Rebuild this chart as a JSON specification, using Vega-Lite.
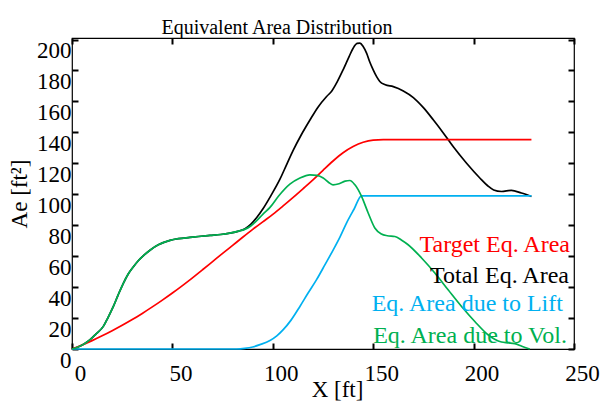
{
  "$schema": "https://vega.github.io/schema/vega-lite/v6.json",
  "width": 502,
  "height": 311,
  "autosize": {"type": "none"},
  "padding": {"left": 72, "top": 38, "right": 32, "bottom": 52},
  "title": {
    "text": "Equivalent Area Distribution",
    "font": "Liberation Serif",
    "fontSize": 20,
    "fontWeight": "normal",
    "color": "#000000",
    "baseline": "alphabetic",
    "offset": -17,
    "dx": -46
  },
  "config": {
    "view": {"stroke": "#000000", "strokeWidth": 1.2},
    "axis": {
      "grid": false,
      "domain": false,
      "labelFont": "Liberation Serif",
      "labelFontSize": 23,
      "labelColor": "#000000",
      "titleFont": "Liberation Serif",
      "titleFontSize": 23,
      "titleFontWeight": "normal",
      "titleColor": "#000000"
    }
  },
  "resolve": {"axis": {"x": "independent", "y": "independent"}},
  "layer": [
    {
      "data": {
        "values": [
          {"s": "Total", "x": 0, "y": 0},
          {"s": "Total", "x": 3, "y": 1.3},
          {"s": "Total", "x": 6, "y": 3.2},
          {"s": "Total", "x": 9, "y": 6},
          {"s": "Total", "x": 12, "y": 9.8},
          {"s": "Total", "x": 15.6, "y": 14.6},
          {"s": "Total", "x": 18, "y": 20.5},
          {"s": "Total", "x": 20.6, "y": 27.5},
          {"s": "Total", "x": 23, "y": 35},
          {"s": "Total", "x": 25.5, "y": 42.3},
          {"s": "Total", "x": 28, "y": 48.5},
          {"s": "Total", "x": 30.5, "y": 53},
          {"s": "Total", "x": 33, "y": 57},
          {"s": "Total", "x": 36, "y": 60.8},
          {"s": "Total", "x": 39, "y": 64},
          {"s": "Total", "x": 43, "y": 67.3},
          {"s": "Total", "x": 48.8, "y": 70.2},
          {"s": "Total", "x": 53, "y": 71.3},
          {"s": "Total", "x": 58.7, "y": 72.1},
          {"s": "Total", "x": 63, "y": 72.7},
          {"s": "Total", "x": 68.7, "y": 73.4},
          {"s": "Total", "x": 74, "y": 74},
          {"s": "Total", "x": 78.6, "y": 74.9},
          {"s": "Total", "x": 83, "y": 76.2},
          {"s": "Total", "x": 86, "y": 77.6},
          {"s": "Total", "x": 89, "y": 80.5},
          {"s": "Total", "x": 92, "y": 85},
          {"s": "Total", "x": 95.2, "y": 90.8},
          {"s": "Total", "x": 99, "y": 99},
          {"s": "Total", "x": 103.5, "y": 109.6},
          {"s": "Total", "x": 107, "y": 119.5},
          {"s": "Total", "x": 110.2, "y": 128.5},
          {"s": "Total", "x": 114, "y": 138},
          {"s": "Total", "x": 118.5, "y": 148},
          {"s": "Total", "x": 122.5, "y": 156.3},
          {"s": "Total", "x": 126.8, "y": 163.2},
          {"s": "Total", "x": 129.3, "y": 166.6},
          {"s": "Total", "x": 132, "y": 172.5},
          {"s": "Total", "x": 135, "y": 180.4},
          {"s": "Total", "x": 138, "y": 189},
          {"s": "Total", "x": 140, "y": 194.4},
          {"s": "Total", "x": 142, "y": 197.5},
          {"s": "Total", "x": 143.4, "y": 197.7},
          {"s": "Total", "x": 145, "y": 195.5},
          {"s": "Total", "x": 146.7, "y": 191.2},
          {"s": "Total", "x": 148.3, "y": 185.5},
          {"s": "Total", "x": 150, "y": 180.4},
          {"s": "Total", "x": 151.7, "y": 176},
          {"s": "Total", "x": 153.3, "y": 172.9},
          {"s": "Total", "x": 156, "y": 170.8},
          {"s": "Total", "x": 160, "y": 169.6},
          {"s": "Total", "x": 165, "y": 166.8},
          {"s": "Total", "x": 170, "y": 162.5},
          {"s": "Total", "x": 175, "y": 156},
          {"s": "Total", "x": 180, "y": 148},
          {"s": "Total", "x": 185, "y": 139.5},
          {"s": "Total", "x": 190, "y": 130.5},
          {"s": "Total", "x": 196.4, "y": 120.2},
          {"s": "Total", "x": 203.1, "y": 110.5},
          {"s": "Total", "x": 207, "y": 105.5},
          {"s": "Total", "x": 210, "y": 102.8},
          {"s": "Total", "x": 213.9, "y": 101.8},
          {"s": "Total", "x": 218.8, "y": 102.5},
          {"s": "Total", "x": 223.8, "y": 100.8},
          {"s": "Total", "x": 228.8, "y": 98.6},

          {"s": "Target", "x": 0, "y": 0},
          {"s": "Target", "x": 5, "y": 2.6},
          {"s": "Target", "x": 10, "y": 5.4},
          {"s": "Target", "x": 15, "y": 8.5},
          {"s": "Target", "x": 20, "y": 11.8},
          {"s": "Target", "x": 25, "y": 15.3},
          {"s": "Target", "x": 30, "y": 19},
          {"s": "Target", "x": 35, "y": 23},
          {"s": "Target", "x": 40, "y": 27.2},
          {"s": "Target", "x": 45, "y": 31.6},
          {"s": "Target", "x": 50, "y": 36.2},
          {"s": "Target", "x": 55, "y": 41},
          {"s": "Target", "x": 60, "y": 46},
          {"s": "Target", "x": 65, "y": 51.2},
          {"s": "Target", "x": 70, "y": 56.5},
          {"s": "Target", "x": 75, "y": 61.8},
          {"s": "Target", "x": 80, "y": 67},
          {"s": "Target", "x": 85, "y": 72.2},
          {"s": "Target", "x": 90, "y": 77.3},
          {"s": "Target", "x": 95, "y": 82.2},
          {"s": "Target", "x": 100, "y": 87},
          {"s": "Target", "x": 105, "y": 92.3},
          {"s": "Target", "x": 110, "y": 97.8},
          {"s": "Target", "x": 115, "y": 103.5},
          {"s": "Target", "x": 120, "y": 109.3},
          {"s": "Target", "x": 125, "y": 115.5},
          {"s": "Target", "x": 130, "y": 121.5},
          {"s": "Target", "x": 135, "y": 126.8},
          {"s": "Target", "x": 140, "y": 130.8},
          {"s": "Target", "x": 145, "y": 133.6},
          {"s": "Target", "x": 150, "y": 135},
          {"s": "Target", "x": 155, "y": 135.3},
          {"s": "Target", "x": 228.8, "y": 135.3},

          {"s": "Lift", "x": 0, "y": 0},
          {"s": "Lift", "x": 82, "y": 0},
          {"s": "Lift", "x": 86, "y": 0.4},
          {"s": "Lift", "x": 90, "y": 1.3},
          {"s": "Lift", "x": 93.6, "y": 2.8},
          {"s": "Lift", "x": 98.6, "y": 5.5},
          {"s": "Lift", "x": 102, "y": 8.5},
          {"s": "Lift", "x": 105.2, "y": 12.5},
          {"s": "Lift", "x": 109, "y": 18.5},
          {"s": "Lift", "x": 113.5, "y": 27.5},
          {"s": "Lift", "x": 117.5, "y": 36},
          {"s": "Lift", "x": 121.8, "y": 44.8},
          {"s": "Lift", "x": 126, "y": 54.5},
          {"s": "Lift", "x": 130.1, "y": 64.1},
          {"s": "Lift", "x": 133.5, "y": 72.5},
          {"s": "Lift", "x": 136.7, "y": 81.4},
          {"s": "Lift", "x": 140.5, "y": 90.5},
          {"s": "Lift", "x": 144.2, "y": 99},
          {"s": "Lift", "x": 228.8, "y": 99},

          {"s": "Vol", "x": 0, "y": 0},
          {"s": "Vol", "x": 3, "y": 1.3},
          {"s": "Vol", "x": 6, "y": 3.2},
          {"s": "Vol", "x": 9, "y": 6},
          {"s": "Vol", "x": 12, "y": 9.8},
          {"s": "Vol", "x": 15.6, "y": 14.6},
          {"s": "Vol", "x": 18, "y": 20.5},
          {"s": "Vol", "x": 20.6, "y": 27.5},
          {"s": "Vol", "x": 23, "y": 35},
          {"s": "Vol", "x": 25.5, "y": 42.3},
          {"s": "Vol", "x": 28, "y": 48.5},
          {"s": "Vol", "x": 30.5, "y": 53},
          {"s": "Vol", "x": 33, "y": 57},
          {"s": "Vol", "x": 36, "y": 60.8},
          {"s": "Vol", "x": 39, "y": 64},
          {"s": "Vol", "x": 43, "y": 67.3},
          {"s": "Vol", "x": 48.8, "y": 70.2},
          {"s": "Vol", "x": 53, "y": 71.3},
          {"s": "Vol", "x": 58.7, "y": 72.1},
          {"s": "Vol", "x": 63, "y": 72.7},
          {"s": "Vol", "x": 68.7, "y": 73.4},
          {"s": "Vol", "x": 74, "y": 74},
          {"s": "Vol", "x": 78.6, "y": 74.9},
          {"s": "Vol", "x": 83, "y": 76.2},
          {"s": "Vol", "x": 86, "y": 77.3},
          {"s": "Vol", "x": 89, "y": 79.5},
          {"s": "Vol", "x": 92, "y": 83},
          {"s": "Vol", "x": 95, "y": 87},
          {"s": "Vol", "x": 98.6, "y": 91.5},
          {"s": "Vol", "x": 103, "y": 99},
          {"s": "Vol", "x": 108.5, "y": 106.5},
          {"s": "Vol", "x": 113.5, "y": 110.5},
          {"s": "Vol", "x": 118.5, "y": 112.6},
          {"s": "Vol", "x": 122, "y": 112.2},
          {"s": "Vol", "x": 125.1, "y": 110.5},
          {"s": "Vol", "x": 128, "y": 107.5},
          {"s": "Vol", "x": 130, "y": 106.1},
          {"s": "Vol", "x": 133, "y": 106.8},
          {"s": "Vol", "x": 136, "y": 108.5},
          {"s": "Vol", "x": 138.4, "y": 108.9},
          {"s": "Vol", "x": 140.9, "y": 106.1},
          {"s": "Vol", "x": 142.5, "y": 103},
          {"s": "Vol", "x": 144.2, "y": 98.6},
          {"s": "Vol", "x": 147.5, "y": 87.9},
          {"s": "Vol", "x": 150.8, "y": 78.2},
          {"s": "Vol", "x": 154.1, "y": 74.3},
          {"s": "Vol", "x": 157, "y": 73.2},
          {"s": "Vol", "x": 160.8, "y": 72.7},
          {"s": "Vol", "x": 164, "y": 70.5},
          {"s": "Vol", "x": 167.4, "y": 67.4},
          {"s": "Vol", "x": 174.1, "y": 58.8},
          {"s": "Vol", "x": 180.7, "y": 49.1},
          {"s": "Vol", "x": 187.3, "y": 38.3},
          {"s": "Vol", "x": 194, "y": 27.5},
          {"s": "Vol", "x": 200.6, "y": 17.8},
          {"s": "Vol", "x": 207.2, "y": 9.2},
          {"s": "Vol", "x": 210.5, "y": 6.3},
          {"s": "Vol", "x": 213.9, "y": 4.5},
          {"s": "Vol", "x": 217, "y": 4},
          {"s": "Vol", "x": 220.5, "y": 3.5},
          {"s": "Vol", "x": 224, "y": 1.8},
          {"s": "Vol", "x": 228, "y": 0}
        ]
      },
      "mark": {"type": "line", "strokeWidth": 1.7, "interpolate": "monotone"},
      "encoding": {
        "x": {
          "field": "x",
          "type": "quantitative",
          "scale": {"domain": [0, 250], "nice": false},
          "axis": {
            "orient": "bottom",
            "offset": -6,
            "values": [0, 50, 100, 150, 200, 250],
            "tickSize": 6,
            "tickColor": "black",
            "tickWidth": 2,
            "labelPadding": 13,
            "labelOffset": 8,
            "labelBaseline": "top",
            "labelFlush": false,
            "title": "X [ft]",
            "titleX": 265,
            "titleY": 35,
            "titleBaseline": "top",
            "titleAlign": "center"
          }
        },
        "y": {
          "field": "y",
          "type": "quantitative",
          "scale": {"domain": [0, 201], "nice": false},
          "axis": {
            "orient": "left",
            "offset": -6,
            "values": [0, 20, 40, 60, 80, 100, 120, 140, 160, 180, 200],
            "tickSize": 6,
            "tickColor": "black",
            "tickWidth": 2,
            "labelPadding": 1,
            "labelOffset": 11,
            "labelFlush": false,
            "labelExpr": "datum.value === 0 ? '0\u00a0\u00a0' : datum.label",
            "title": "Ae [ft²]",
            "titleX": -59,
            "titleBaseline": "middle",
            "titleAlign": "center"
          }
        },
        "color": {
          "field": "s",
          "type": "nominal",
          "scale": {
            "domain": ["Total", "Target", "Lift", "Vol"],
            "range": ["#000000", "#ff0000", "#00b0f0", "#00b050"]
          },
          "legend": null
        }
      }
    },
    {
      "data": {
        "values": [
          {"s": "Target", "label": "Target Eq. Area", "x": 248, "y": 63},
          {"s": "Total", "label": "Total Eq. Area", "x": 247.5, "y": 42.8},
          {"s": "Lift", "label": "Eq. Area due to Lift", "x": 244.5, "y": 24.3},
          {"s": "Vol", "label": "Eq. Area due to Vol.", "x": 246.5, "y": 4.1}
        ]
      },
      "mark": {
        "type": "text",
        "align": "right",
        "baseline": "alphabetic",
        "font": "Liberation Serif",
        "fontSize": 24
      },
      "encoding": {
        "x": {
          "field": "x",
          "type": "quantitative",
          "axis": {"orient": "top", "offset": -6, "values": [0, 50, 100, 150, 200, 250], "labels": false, "title": null, "tickSize": 6, "tickColor": "black", "tickWidth": 2}
        },
        "y": {
          "field": "y",
          "type": "quantitative",
          "axis": {"orient": "right", "offset": -6, "values": [0, 20, 40, 60, 80, 100, 120, 140, 160, 180, 200], "labels": false, "title": null, "tickSize": 6, "tickColor": "black", "tickWidth": 2}
        },
        "text": {"field": "label"},
        "color": {"field": "s", "type": "nominal", "legend": null}
      }
    }
  ]
}
